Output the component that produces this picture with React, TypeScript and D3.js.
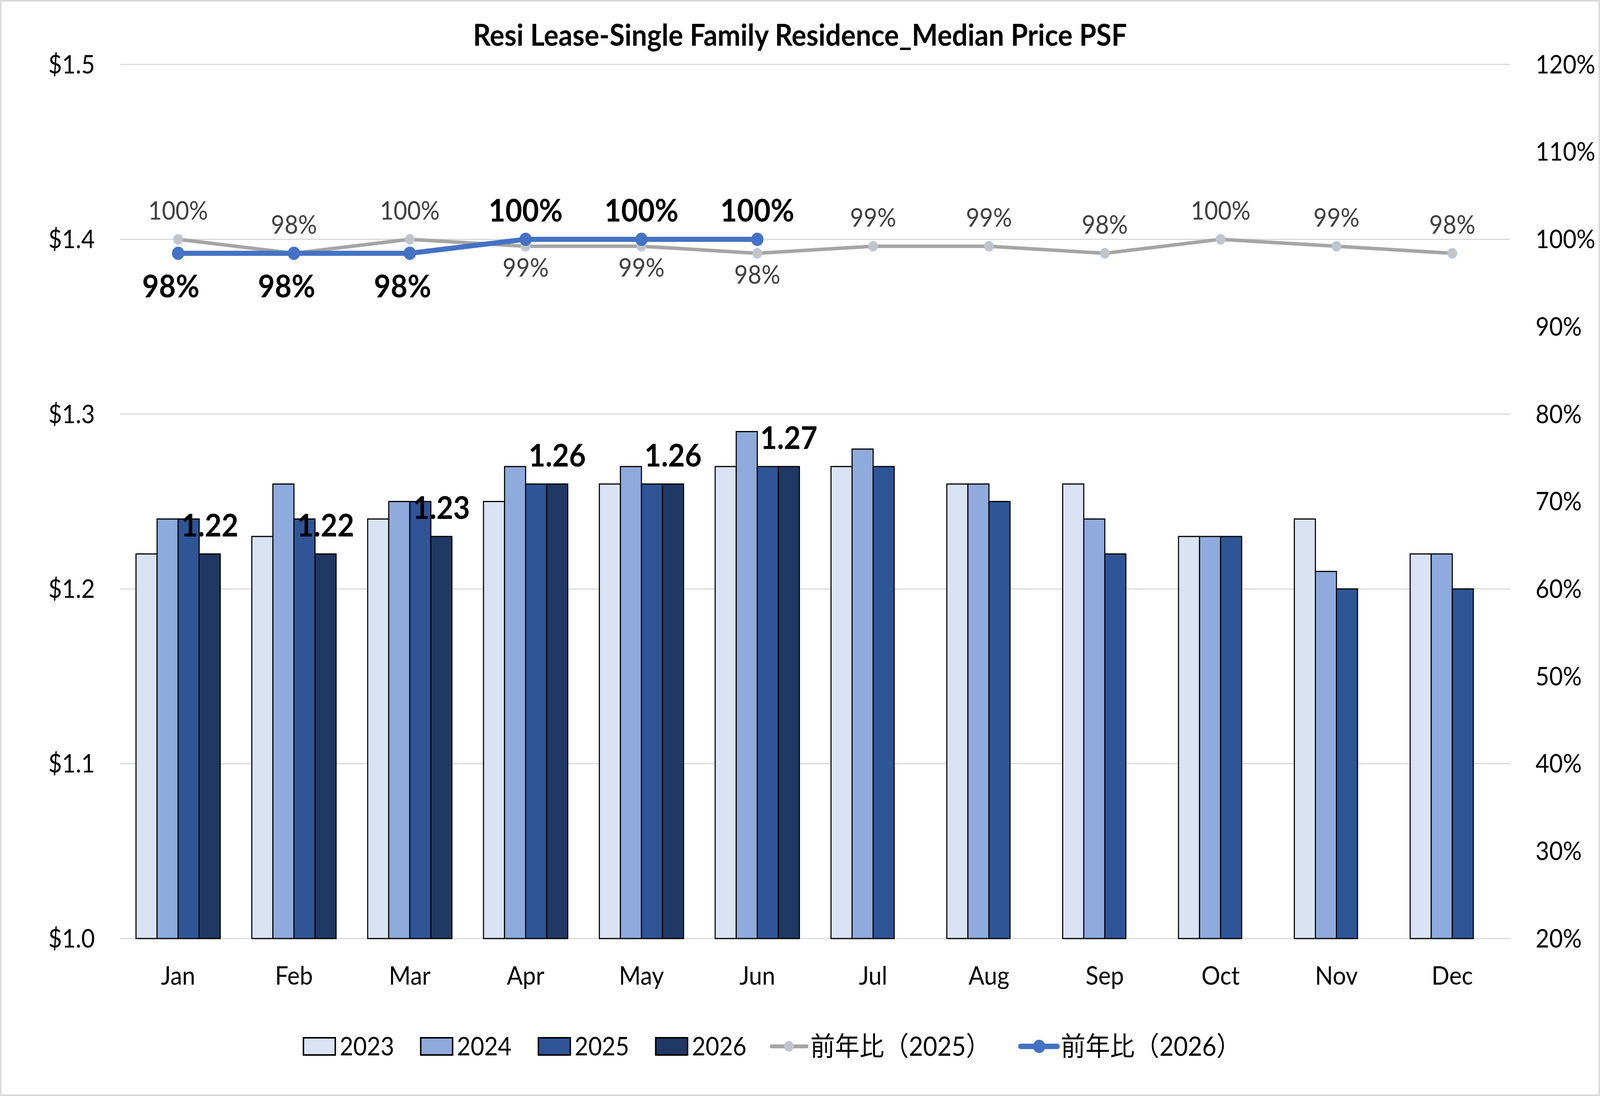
import * as d3 from "d3"

// Categories
const months = ["Jan", "Feb", "Mar", "Apr", "May", "Jun", "Jul", "Aug", "Sep", "Oct", "Nov", "Dec"]
const years = ["2023", "2024", "2025", "2026"]

// Median price PSF per year (bars, left axis)
const price2023 = [1.22, 1.23, 1.24, 1.25, 1.26, 1.27, 1.27, 1.26, 1.26, 1.23, 1.24, 1.22]
const price2024 = [1.24, 1.26, 1.25, 1.27, 1.27, 1.29, 1.28, 1.26, 1.24, 1.23, 1.21, 1.22]
const price2025 = [1.24, 1.24, 1.25, 1.26, 1.26, 1.27, 1.27, 1.25, 1.22, 1.23, 1.2, 1.2]
const price2026 = [1.22, 1.22, 1.23, 1.26, 1.26, 1.27]

// Year-over-year ratio (lines, right axis)
const yoy2025 = [1.0, 0.984, 1.0, 0.992, 0.992, 0.984, 0.992, 0.992, 0.984, 1.0, 0.992, 0.984]
const yoy2026 = [0.984, 0.984, 0.984, 1.0, 1.0, 1.0]
const yoy2025LabelSide = ["above", "above", "above", "below", "below", "below", "above", "above", "above", "above", "above", "above"]
const yoy2026LabelSide = ["below", "below", "below", "above", "above", "above"]

// Axis ticks
const leftTicks = [1.0, 1.1, 1.2, 1.3, 1.4, 1.5]
const rightTicks = [0.2, 0.3, 0.4, 0.5, 0.6, 0.7, 0.8, 0.9, 1.0, 1.1, 1.2]

const title = "Resi Lease-Single Family Residence_Median Price PSF"
const legendYoy2025 = "前年比（2025）"
const legendYoy2026 = "前年比（2026）"

const barColors = ["#DAE3F3", "#8FAADC", "#2F5597", "#203864"]
const priceSeries = [price2023, price2024, price2025, price2026]

const W = 4419
const H = 2805
const plot = { left: 332, right: 4171, top: 165, bottom: 2402 }
const font = "Lato, 'Noto Sans CJK JP', sans-serif"

export default function App() {
  const x = d3.scaleBand().domain(months).range([plot.left, plot.right]).paddingInner(0.2727).paddingOuter(0.13635)
  const xs = d3.scaleBand().domain(years).range([0, x.bandwidth()])
  const yL = d3.scaleLinear().domain([1.0, 1.5]).range([plot.bottom, plot.top])
  const yR = d3.scaleLinear().domain([0.2, 1.2]).range([plot.bottom, plot.top])
  const pct = d3.format(".0%")
  const cx = (m: string) => (x(m) ?? 0) + x.bandwidth() / 2

  const line = d3
    .line<number>()
    .x((_, i) => cx(months[i]))
    .y((d) => yR(d))

  const labelOffset = 73

  const legendBars = [
    { x: 838, color: barColors[0], text: "2023" },
    { x: 1162, color: barColors[1], text: "2024" },
    { x: 1487, color: barColors[2], text: "2025" },
    { x: 1811, color: barColors[3], text: "2026" },
  ]
  const legendY = 2678

  return (
    <svg
      viewBox={`0 0 ${W} ${H}`}
      preserveAspectRatio="none"
      style={{ position: "fixed", left: 0, top: 0, width: "100vw", height: "100vh", display: "block" }}
      fontFamily={font}
    >
      <rect x={2} y={2} width={W - 4} height={H - 4} fill="white" stroke="#D9D9D9" strokeWidth={4} />

      {/* title */}
      <text x={W / 2} y={90} dy="0.35em" textAnchor="middle" fontSize={76} fontWeight="bold" fill="#000">
        {title}
      </text>

      {/* gridlines */}
      {leftTicks.map((t) => (
        <line key={t} x1={plot.left} x2={plot.right} y1={yL(t)} y2={yL(t)} stroke="#D9D9D9" strokeWidth={3} />
      ))}

      {/* left axis */}
      {leftTicks.map((t) => (
        <text key={t} x={262} y={yL(t)} dy="0.35em" textAnchor="end" fontSize={65} fill="#000">
          {"$" + t.toFixed(1)}
        </text>
      ))}

      {/* right axis */}
      {rightTicks.map((t) => (
        <text key={t} x={4241} y={yR(t)} dy="0.35em" textAnchor="start" fontSize={65} fill="#000">
          {pct(t)}
        </text>
      ))}

      {/* bars */}
      {priceSeries.map((series, s) =>
        series.map((v, i) => (
          <rect
            key={`${s}-${i}`}
            x={(x(months[i]) ?? 0) + (xs(years[s]) ?? 0)}
            y={yL(v)}
            width={xs.bandwidth()}
            height={yL(1.0) - yL(v)}
            fill={barColors[s]}
            stroke="#000"
            strokeWidth={3}
          />
        ))
      )}

      {/* 2026 bar labels */}
      {price2026.map((v, i) => (
        <text
          key={i}
          x={(x(months[i]) ?? 0) + (xs("2026") ?? 0) + xs.bandwidth() / 2}
          y={yL(v) - labelOffset}
          dy="0.35em"
          textAnchor="middle"
          fontSize={80}
          fontWeight="bold"
          fill="#000"
        >
          {v.toFixed(2)}
        </text>
      ))}

      {/* month labels */}
      {months.map((m) => (
        <text key={m} x={cx(m)} y={2497} dy="0.35em" textAnchor="middle" fontSize={65} fill="#000">
          {m}
        </text>
      ))}

      {/* yoy 2025 line */}
      <path d={line(yoy2025) ?? ""} fill="none" stroke="#A5A5A5" strokeWidth={9} strokeLinejoin="round" />
      {yoy2025.map((v, i) => (
        <circle key={i} cx={cx(months[i])} cy={yR(v)} r={12} fill="#C4C4C4" stroke="#B4C7E7" strokeWidth={3} />
      ))}

      {/* yoy 2026 line */}
      <path d={line(yoy2026) ?? ""} fill="none" stroke="#4472C4" strokeWidth={13} strokeLinejoin="round" />
      {yoy2026.map((v, i) => (
        <circle key={i} cx={cx(months[i])} cy={yR(v)} r={17} fill="#4472C4" />
      ))}

      {/* yoy labels */}
      {yoy2025.map((v, i) => (
        <text
          key={i}
          x={cx(months[i])}
          y={yR(v) + (yoy2025LabelSide[i] === "above" ? -labelOffset : labelOffset * 0.75)}
          dy="0.35em"
          textAnchor="middle"
          fontSize={65}
          fill="#404040"
        >
          {pct(v)}
        </text>
      ))}
      {yoy2026.map((v, i) => (
        <text
          key={i}
          x={cx(months[i]) - (yoy2026LabelSide[i] === "below" ? 20 : 0)}
          y={yR(v) + (yoy2026LabelSide[i] === "above" ? -labelOffset : labelOffset + 12)}
          dy="0.35em"
          textAnchor="middle"
          fontSize={80}
          fontWeight="bold"
          fill="#000"
        >
          {pct(v)}
        </text>
      ))}

      {/* legend */}
      {legendBars.map((l) => (
        <g key={l.text}>
          <rect x={l.x} y={legendY - 22} width={88} height={44} fill={l.color} stroke="#000" strokeWidth={4} />
          <text x={l.x + 100} y={legendY} dy="0.35em" fontSize={65} fill="#000">
            {l.text}
          </text>
        </g>
      ))}
      <line x1={2131} x2={2228} y1={legendY} y2={legendY} stroke="#A5A5A5" strokeWidth={10} strokeLinecap="round" />
      <circle cx={2179} cy={legendY} r={12} fill="#C4C4C4" stroke="#B4C7E7" strokeWidth={3} />
      <text x={2238} y={legendY} dy="0.35em" fontSize={68} fill="#000">
        {legendYoy2025}
      </text>
      <line x1={2819} x2={2920} y1={legendY} y2={legendY} stroke="#4472C4" strokeWidth={14} strokeLinecap="round" />
      <circle cx={2870} cy={legendY} r={17} fill="#4472C4" />
      <text x={2930} y={legendY} dy="0.35em" fontSize={68} fill="#000">
        {legendYoy2026}
      </text>
    </svg>
  )
}
